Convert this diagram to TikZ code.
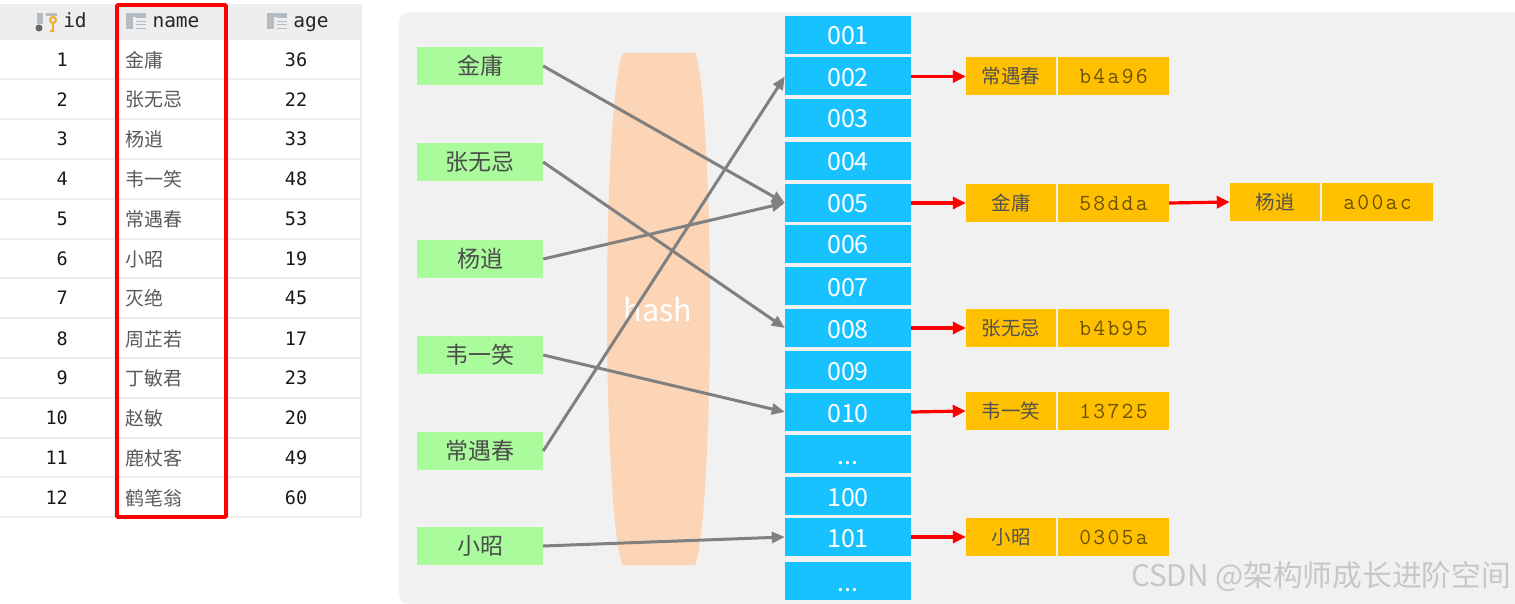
\documentclass[tikz,border=0pt]{standalone}
\usepackage{fontspec}
\setmainfont{Noto Sans CJK SC}
\newfontfamily\tablefont{DejaVu Sans Mono}
\newfontfamily\hashfont[LetterSpace=10]{Latin Modern Mono}
\usetikzlibrary{arrows.meta,positioning}
\definecolor{keybg}{HTML}{A9FB9B}
\definecolor{slotbg}{HTML}{18C2FF}
\definecolor{entrybg}{HTML}{FFC000}
\definecolor{panelbg}{HTML}{F1F1F1}
\definecolor{barrelbg}{HTML}{FBD5B5}
\definecolor{gridline}{HTML}{ECECEC}
\definecolor{headbg}{HTML}{EEEEEE}
\definecolor{iconbg}{HTML}{B4BCC2}
\definecolor{keygold}{HTML}{EDAF2F}
\newcommand{\slotdots}{...}

\begin{document}
\begin{tikzpicture}[x=1pt,y=-1pt,
    keybox/.style = {fill=keybg, minimum width=126pt, minimum height=38pt, inner sep=0pt, text=black!70, font=\fontsize{23}{25}\selectfont},
    slotbox/.style = {fill=slotbg, minimum width=126pt, minimum height=38pt, inner sep=0pt, text=white, text height=20pt, text depth=0pt, font=\fontsize{25}{27}\selectfont},
    namebox/.style = {fill=entrybg, minimum width=90pt, minimum height=38pt, inner sep=0pt, text=black!68, font=\fontsize{19.5}{22}\selectfont},
    codebox/.style = {fill=entrybg, minimum width=111pt, minimum height=38pt, inner sep=0pt, text=black!58!entrybg, font=\hashfont\fontsize{23}{25}\selectfont},
    hashline/.style = {draw=black!50, line width=3pt, -{Triangle[length=13pt,width=11pt]}},
    linkline/.style = {draw=red, line width=3.2pt, -{Triangle[length=13pt,width=12pt]}},
    headcell/.style = {font=\tablefont\fontsize{19.5}{21}\selectfont, text=black!85, inner sep=0pt, text height=14pt, text depth=4pt},
    numcell/.style = {font=\tablefont\fontsize{18.5}{20}\selectfont, text=black!90, inner sep=0pt},
    namecell/.style = {font=\fontsize{19}{21}\selectfont, text=black!65, inner sep=0pt, anchor=west}]
\useasboundingbox (0,0) rectangle (1515,604);

% left table
\fill[headbg] (0,4) rectangle (361,38);
\foreach \y in {39,79,119,159,199,239,278,318,358,398,438,477,517}
    \draw[gridline, line width=1.2pt] (0,\y) -- (361,\y);
\draw[gridline, line width=1.2pt] (361,4) -- (361,517);
\draw[gridline, line width=1.2pt] (115,4) -- (115,517);
\draw[gridline, line width=1.2pt] (228,4) -- (228,517);
\node[headcell] (headid) at (75,23) {id};
\node[headcell] (headname) at (176,23) {name};
\node[headcell] (headage) at (311,23) {age};
% header icons
\fill[black!60] (39,28) circle (3.5pt);
\fill[iconbg] (37,13) rectangle (43,24);
\fill[iconbg] (46,13) rectangle (57,16);
\draw[keygold, line width=2pt] (53,20) circle (3pt) (53,23) -- (53,31) -- (50,31);
\foreach \x in {126,267} {
    \fill[iconbg] (\x,13) rectangle (\x+7,29);
    \fill[iconbg] (\x+7,13) rectangle (\x+20,17);
    \foreach \j in {0,1,2,3}
        \draw[iconbg, line width=1pt] (\x+10,18+\j*3.5) -- (\x+20,18+\j*3.5);
}
\foreach \n/\y/\name/\age in {1/60/金庸/36,2/100/张无忌/22,3/139/杨逍/33,4/179/韦一笑/48,5/219/常遇春/53,6/259/小昭/19,7/298/灭绝/45,8/339/周芷若/17,9/378/丁敏君/23,10/418/赵敏/20,11/458/鹿杖客/49,12/498/鹤笔翁/60} {
    \node[numcell, anchor=east] (id\n) at (68,\y) {\n};
    \node[namecell] (nm\n) at (125,\y) {\name};
    \node[numcell] (age\n) at (296,\y) {\age};
}
\draw[red, line width=3.6pt, rounded corners=1pt] (117,5) rectangle (226,517);

% right panel
\fill[panelbg, rounded corners=10pt] (399,12) rectangle (1530,604);
\fill[barrelbg] (623,53) -- (695,53) .. controls (703,68) and (710,180) .. (710,309) .. controls (710,438) and (703,550) .. (695,565) -- (623,565) .. controls (614,550) and (607,438) .. (607,309) .. controls (607,180) and (614,68) .. (623,53) -- cycle;
\node[text=white, font=\fontsize{30.5}{32}\selectfont, inner sep=0pt] (hashtext) at (658,310) {hash};

\node[keybox] (kjy) at (480,66) {金庸};
\node[keybox] (kzw) at (480,162) {张无忌};
\node[keybox] (kyx) at (480,259) {杨逍};
\node[keybox] (kwy) at (480,355) {韦一笑};
\node[keybox] (kcy) at (480,451) {常遇春};
\node[keybox] (kxz) at (480,546) {小昭};

\foreach \n/\y/\t in {a/35/001,b/76.5/002,c/118/003,d/161/004,e/203/005,f/244/006,g/286/007,h/328/008,i/370/009,j/412/010,k/454/\slotdots,l/496/100,m/537/101,n/581/\slotdots}
    \node[slotbox] (s\n) at (848,\y) {\t};

\draw[hashline] (kjy.east) -- (se.west);
\draw[hashline] (kzw.east) -- (sh.west);
\draw[hashline] (kyx.east) -- (se.west);
\draw[hashline] (kwy.east) -- (sj.west);
\draw[hashline] (kcy.east) -- (sb.west);
\draw[hashline] (kxz.east) -- (sm.west);

\node[namebox] (ecy) at (1011,76.5) {常遇春};
\node[codebox] (hcy) at (1113.5,76) {b4a96};
\node[namebox] (ejy) at (1011,203) {金庸};
\node[codebox] (hjy) at (1113.5,203) {58dda};
\node[namebox] (eyx) at (1275,202) {杨逍};
\node[codebox] (hyx) at (1377.5,202) {a00ac};
\node[namebox] (ezw) at (1011,328) {张无忌};
\node[codebox] (hzw) at (1113.5,328) {b4b95};
\node[namebox] (ewy) at (1011,411) {韦一笑};
\node[codebox] (hwy) at (1113.5,411) {13725};
\node[namebox] (exz) at (1011,537) {小昭};
\node[codebox] (hxz) at (1113.5,537) {0305a};

\draw[linkline] (sb.east) -- (ecy.west);
\draw[linkline] (se.east) -- (ejy.west);
\draw[linkline] (hjy.east) -- (eyx.west);
\draw[linkline] (sh.east) -- (ezw.west);
\draw[linkline] (sj.east) -- (ewy.west);
\draw[linkline] (sm.east) -- (exz.west);

\node[anchor=east, text=black!22, inner sep=0pt, font=\fontsize{29.7}{31}\selectfont] (mark) at (1511,577) {CSDN @架构师成长进阶空间};
\end{tikzpicture}
\end{document}
